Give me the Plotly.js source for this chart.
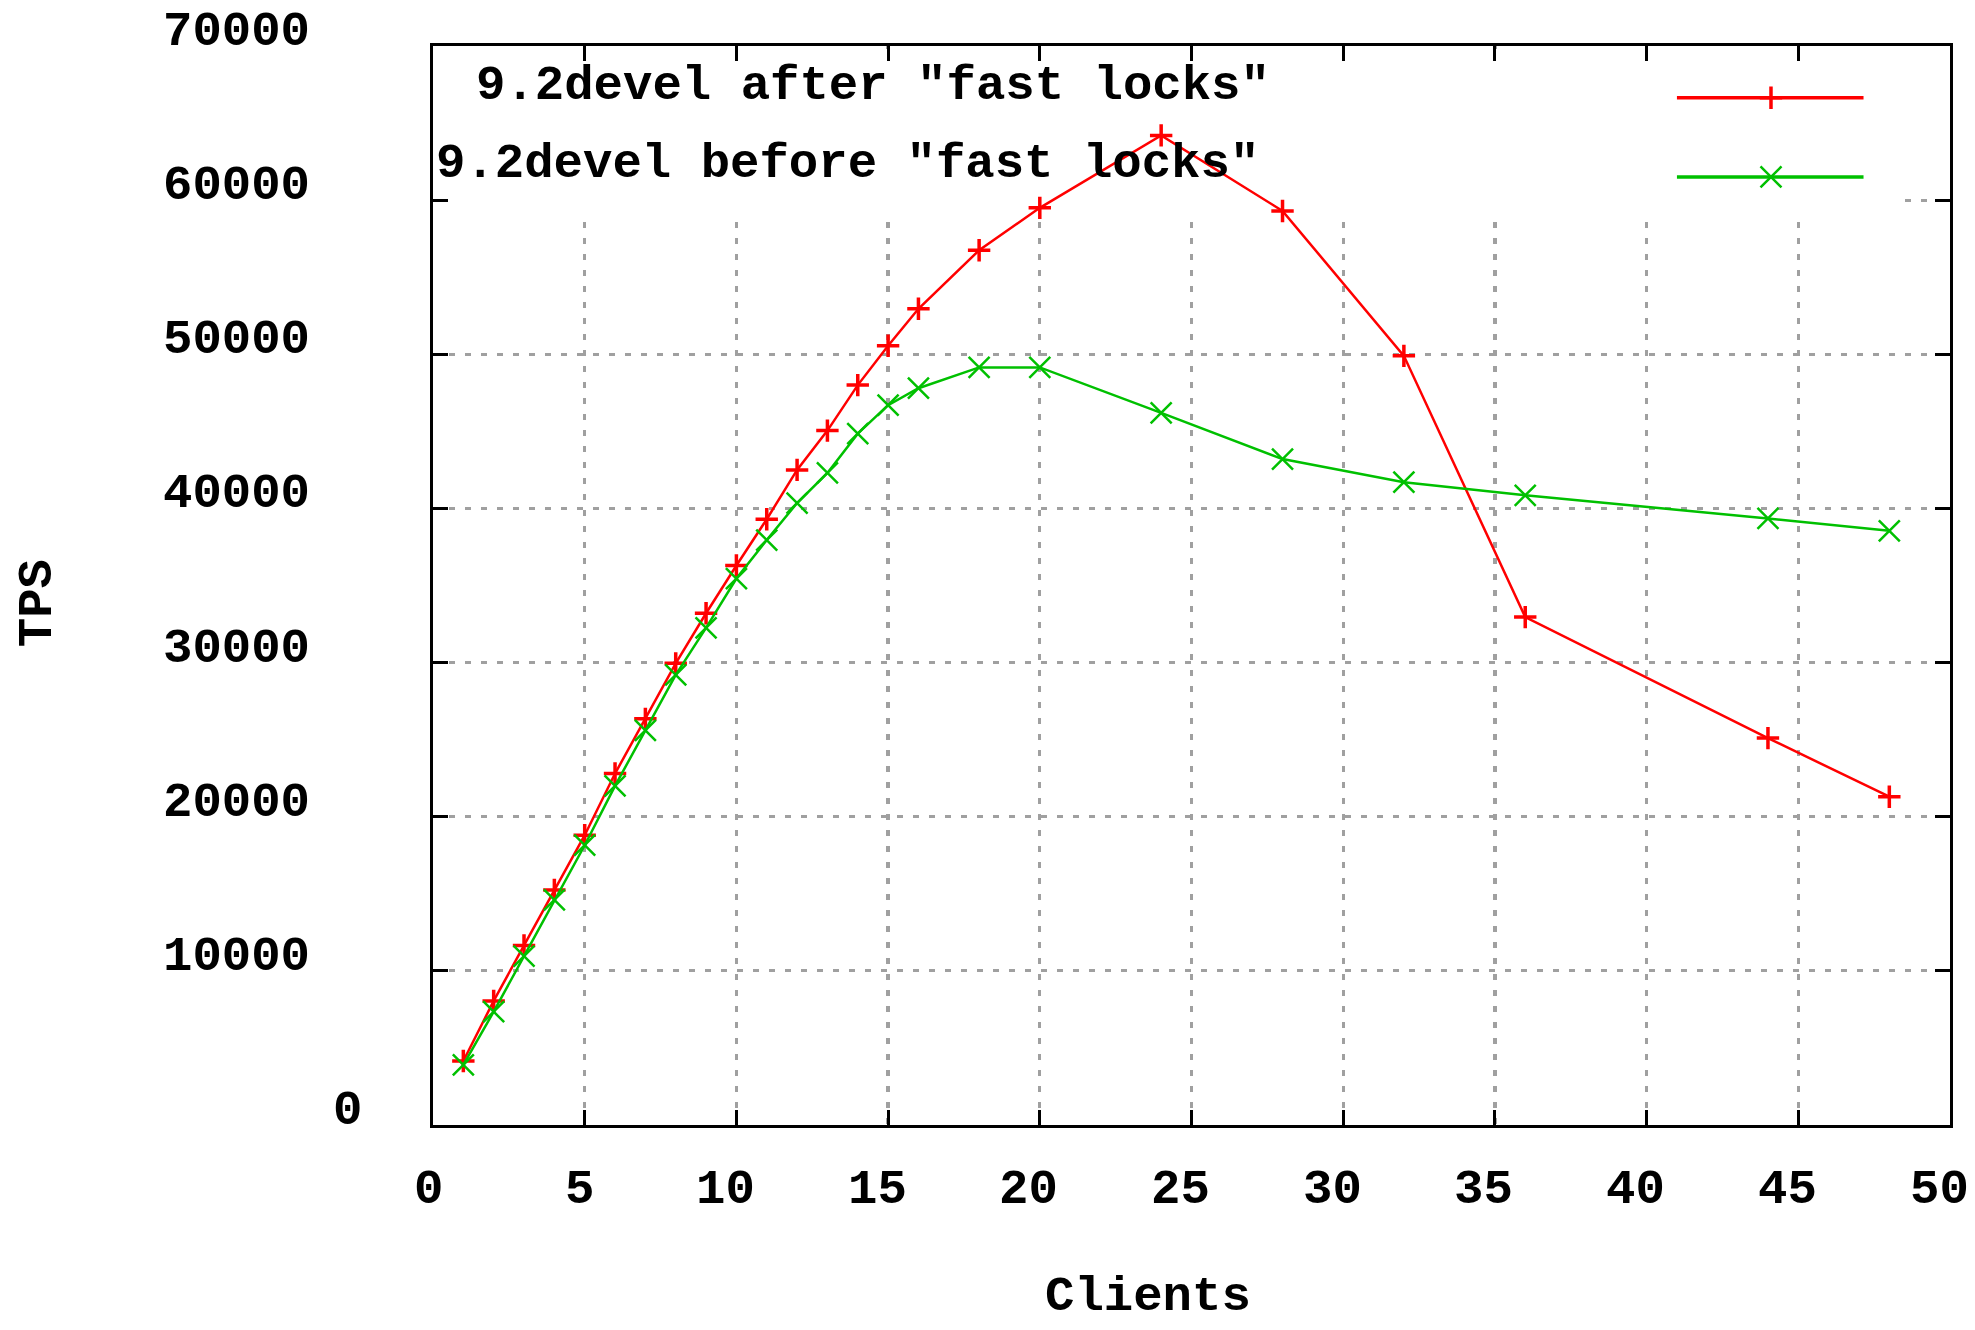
<!DOCTYPE html>
<html>
<head>
<meta charset="utf-8">
<script src="https://cdn.plot.ly/plotly-3.0.1.min.js"></script>
<style>
  html, body { margin: 0; padding: 0; background: #ffffff; }
  #chart { width: 1975px; height: 1330px; }
</style>
</head>
<body>
<div id="chart"></div>
<script>
// ---- data ----
const clients = [1, 2, 3, 4, 5, 6, 7, 8, 9, 10, 11, 12, 13, 14, 15, 16, 18, 20, 24, 28, 32, 36, 44, 48];
const tpsAfter = [4150, 8050, 11650, 15250, 18800, 22800, 26350, 29950, 33200, 36300, 39300, 42500,
                  45050, 48000, 50550, 52950, 56750, 59500, 64200, 59300, 49900, 32950, 25100, 21300];
const tpsBefore = [3900, 7350, 10950, 14600, 18150, 22000, 25600, 29200, 32250, 35450, 37950, 40350,
                   42300, 44850, 46700, 47800, 49150, 49150, 46200, 43200, 41700, 40850, 39350, 38550];
const seriesNames = ['9.2devel after "fast locks"', '9.2devel before "fast locks"'];
const yTickVals = [0, 10000, 20000, 30000, 40000, 50000, 60000, 70000];
const yTickText = ['0', '10000', '20000', '30000', '40000', '50000', '60000', '70000'];
const xTickVals = [0, 5, 10, 15, 20, 25, 30, 35, 40, 45, 50];
const xTickText = ['0', '5', '10', '15', '20', '25', '30', '35', '40', '45', '50'];
const xTitle = 'Clients';
const yTitle = 'TPS';

// ---- style ----
const FONT = '"Liberation Mono", "DejaVu Sans Mono", monospace';
const FS = 49;
const TXT = { family: FONT, size: FS, color: '#000000', weight: 'bold' };
const RED = '#ff0000';
const GREEN = '#00c000';
const GRID = '#a0a0a0';

const W = 1975, H = 1330;
const M = { l: 433, r: 25, t: 46, b: 205 };
const PW = W - M.l - M.r;
const PH = H - M.t - M.b;

// gnuplot-style label placement: justified with an estimated glyph width
const EST_CHAR = 42.5;
const LABEL_RIGHT = 373.5; // px from left edge of figure
function gnuplotLeft(txt) {
  return (LABEL_RIGHT - txt.length * EST_CHAR - M.l) / PW;
}

const redMarker = { symbol: 'cross-thin-open', size: 16, color: RED, line: { color: RED, width: 3.5 } };
const greenMarker = { symbol: 'x-thin-open', size: 21, color: GREEN, line: { color: GREEN, width: 2.5 } };

const traces = [
  {
    x: clients, y: tpsAfter, name: seriesNames[0], type: 'scatter', mode: 'lines+markers',
    line: { color: RED, width: 2.5 }, marker: redMarker, showlegend: false
  },
  {
    x: clients, y: tpsBefore, name: seriesNames[1], type: 'scatter', mode: 'lines+markers',
    line: { color: GREEN, width: 2.5 }, marker: greenMarker, showlegend: false
  },
  // key samples (drawn on an invisible 0..1 overlay axis)
  {
    x: [0.820, 0.943], y: [0.952, 0.952], xaxis: 'x2', yaxis: 'y2', mode: 'lines',
    line: { color: RED, width: 3.5 }, showlegend: false, hoverinfo: 'skip'
  },
  {
    x: [0.882], y: [0.952], xaxis: 'x2', yaxis: 'y2', mode: 'markers',
    marker: redMarker, showlegend: false, hoverinfo: 'skip'
  },
  {
    x: [0.820, 0.943], y: [0.8786, 0.8786], xaxis: 'x2', yaxis: 'y2', mode: 'lines',
    line: { color: GREEN, width: 3.5 }, showlegend: false, hoverinfo: 'skip'
  },
  {
    x: [0.882], y: [0.8786], xaxis: 'x2', yaxis: 'y2', mode: 'markers',
    marker: greenMarker, showlegend: false, hoverinfo: 'skip'
  }
];

const annotations = [];
// y tick labels
yTickVals.forEach((v, i) => {
  annotations.push({
    xref: 'paper', yref: 'y', x: gnuplotLeft(yTickText[i]), y: v,
    xanchor: 'left', yanchor: 'middle', yshift: 14,
    text: yTickText[i], showarrow: false, font: TXT
  });
});
// x tick labels
xTickVals.forEach((v, i) => {
  annotations.push({
    xref: 'x', yref: 'paper', x: v, y: -65 / PH,
    xanchor: 'left', yanchor: 'middle', xshift: -xTickText[i].length * EST_CHAR / 2,
    text: xTickText[i], showarrow: false, font: TXT
  });
});
// axis titles
annotations.push({
  xref: 'paper', yref: 'paper', x: 0.5, y: -172 / PH,
  xanchor: 'left', yanchor: 'middle', xshift: -xTitle.length * EST_CHAR / 2,
  text: xTitle, showarrow: false, font: TXT
});
annotations.push({
  xref: 'paper', yref: 'paper', x: (38 - M.l) / PW, y: 0.5,
  xanchor: 'center', yanchor: 'bottom', yshift: -yTitle.length * EST_CHAR / 2,
  text: yTitle, textangle: -90, showarrow: false, font: TXT
});
// key labels
annotations.push({
  xref: 'paper', yref: 'paper', x: (474 - M.l) / PW, y: 0.963,
  xanchor: 'left', yanchor: 'middle', text: seriesNames[0], showarrow: false, font: TXT
});
annotations.push({
  xref: 'paper', yref: 'paper', x: (434 - M.l) / PW, y: 0.8906,
  xanchor: 'left', yanchor: 'middle', text: seriesNames[1], showarrow: false, font: TXT
});

const axisCommon = {
  showline: true, linecolor: '#000000', linewidth: 3, mirror: 'allticks',
  ticks: 'inside', ticklen: 15, tickwidth: 3, tickcolor: '#000000',
  showticklabels: false,
  showgrid: true, gridcolor: GRID, gridwidth: 3.2, griddash: '6px,10px',
  zeroline: false, fixedrange: true
};

const layout = {
  width: W, height: H,
  margin: M,
  paper_bgcolor: '#ffffff', plot_bgcolor: '#ffffff',
  font: { family: FONT, size: FS, color: '#000000' },
  showlegend: false,
  xaxis: Object.assign({}, axisCommon, { range: [0, 50], tickvals: xTickVals }),
  yaxis: Object.assign({}, axisCommon, { range: [0, 70000], tickvals: yTickVals }),
  xaxis2: { overlaying: 'x', range: [0, 1], visible: false, fixedrange: true },
  yaxis2: { overlaying: 'y', range: [0, 1], visible: false, fixedrange: true },
  shapes: [
    // key box area: hides the grid behind the key, like gnuplot does
    {
      type: 'rect', xref: 'x', yref: 'y', x0: 0.15, x1: 48.35, y0: 59200, y1: 69800,
      fillcolor: '#ffffff', line: { width: 0 }, layer: 'between'
    }
  ],
  annotations: annotations
};

Plotly.newPlot('chart', traces, layout, { displayModeBar: false, staticPlot: true });
</script>
</body>
</html>
